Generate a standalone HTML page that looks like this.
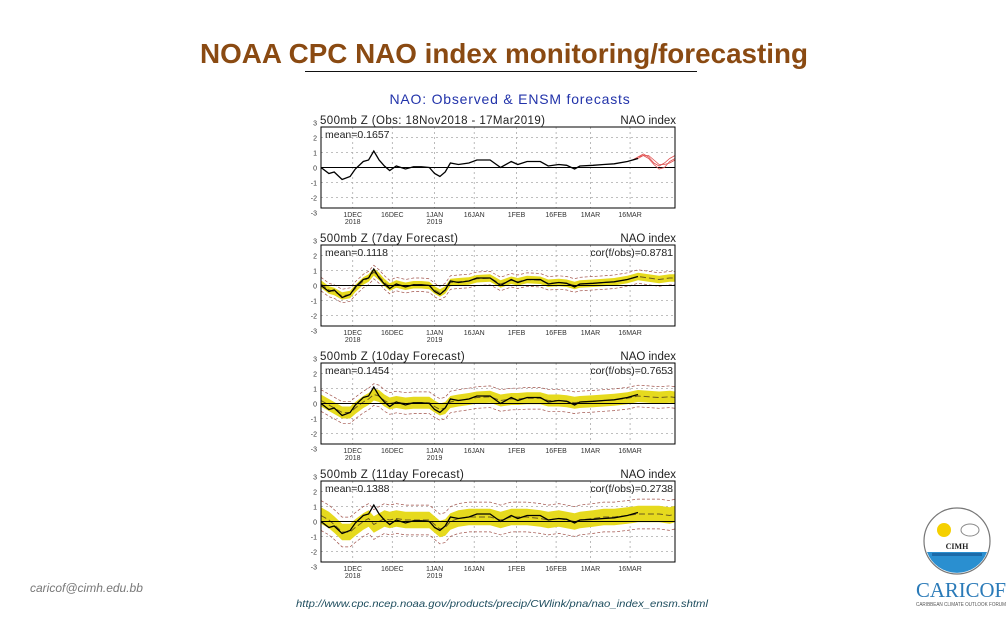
<!DOCTYPE html>
<html><head><meta charset="utf-8"><style>
html,body{margin:0;padding:0;background:#fff;}
body{width:1008px;height:612px;overflow:hidden;position:relative;font-family:"Liberation Sans",sans-serif;}
</style></head><body>
<svg id="slide" width="1008" height="612" viewBox="0 0 1008 612" xmlns="http://www.w3.org/2000/svg">
<text x="200" y="63" textLength="608" lengthAdjust="spacingAndGlyphs" font-family="Liberation Sans, sans-serif" font-weight="bold" font-size="28" fill="#8a4a12">NOAA CPC NAO index monitoring/forecasting</text>
<line x1="305" y1="71.5" x2="697" y2="71.5" stroke="#111" stroke-width="1"/>
<text x="510" y="104" text-anchor="middle" font-family="Liberation Sans, sans-serif" font-size="14" fill="#2233aa" letter-spacing="0.8">NAO: Observed &amp; ENSM forecasts</text>
<text x="30" y="592" font-family="Liberation Sans, sans-serif" font-style="italic" font-size="12" fill="#777">caricof@cimh.edu.bb</text>
<text x="296" y="607" textLength="412" lengthAdjust="spacingAndGlyphs" font-family="Liberation Sans, sans-serif" font-style="italic" font-size="10.5" fill="#1e4d5e">http://www.cpc.ncep.noaa.gov/products/precip/CWlink/pna/nao_index_ensm.shtml</text>
<g>
<circle cx="957" cy="541" r="33" fill="#fff" stroke="#777" stroke-width="1.2"/>
<circle cx="944" cy="530" r="7" fill="#f5d000"/>
<ellipse cx="970" cy="530" rx="9" ry="6" fill="#fff" stroke="#888" stroke-width="1"/>
<text x="957" y="549" text-anchor="middle" font-family="Liberation Serif, serif" font-size="8" font-weight="bold" fill="#222">CIMH</text>
<path d="M927,552 L987,552 A32,32 0 0 1 927,552 Z" fill="#2a8fd0"/>
<rect x="932" y="553" width="50" height="3" fill="#1c6aa8"/>
</g>
<text x="916" y="597" font-family="Liberation Serif, serif" font-size="21" fill="#2a7ab8" textLength="90" lengthAdjust="spacingAndGlyphs">CARICOF</text>
<text x="916" y="606" font-family="Liberation Sans, sans-serif" font-size="5" fill="#555" textLength="90" lengthAdjust="spacingAndGlyphs">CARIBBEAN CLIMATE OUTLOOK FORUM</text>
<g id="charts"></g>
</svg>
<script>
// Day index 0 = 19 Nov 2018
const days = [0,3,5,8,11,13,16,18,20,22,24,26,28.5,32,35,38,41,43,45,47,49,52,56,59,64,68,72,74.5,78,83,86,90,93,96,98,103,107,111,116,120];
const obs = [0,-0.4,-0.3,-0.8,-0.6,-0.1,0.4,0.5,1.1,0.5,0.1,-0.2,0.1,-0.1,0.05,0.05,0,-0.4,-0.6,-0.3,0.3,0.2,0.3,0.5,0.5,0,0.4,0.2,0.4,0.4,0.1,0.2,0.15,-0.1,0.1,0.15,0.2,0.25,0.4,0.6];
const fDays = [0,3,5,8,11,13,16,18,20,22,24,26,28.5,32,35,38,41,43,45,47,49,52,56,59,64,68,72,74.5,78,83,86,90,93,96,98,103,107,111,116,120,124,128,132,134];
const fcst7 = [0.1,-0.3,-0.4,-0.7,-0.6,-0.2,0.3,0.5,0.9,0.6,0.2,-0.1,0.1,-0.05,0.05,0.05,0,-0.3,-0.5,-0.3,0.2,0.25,0.3,0.45,0.5,0.1,0.35,0.25,0.4,0.35,0.15,0.2,0.15,0,0.1,0.15,0.2,0.25,0.4,0.6,0.5,0.4,0.5,0.5];
const fcst10 = [0.2,-0.1,-0.3,-0.6,-0.6,-0.3,0.1,0.3,0.6,0.5,0.2,0,0.1,0,0.05,0.05,0.05,-0.2,-0.4,-0.3,0.1,0.2,0.3,0.4,0.45,0.2,0.3,0.3,0.35,0.35,0.2,0.2,0.15,0.05,0.1,0.15,0.2,0.25,0.35,0.5,0.45,0.4,0.45,0.4];
const fcst11 = [0.4,0.1,-0.2,-0.7,-0.7,-0.4,0,0.2,-0.2,0,0.2,0.1,0.2,0.1,0.1,0.1,0.1,-0.2,-0.5,-0.4,0,0.2,0.3,0.3,0.3,0.1,0.3,0.3,0.3,0.2,0.1,0.2,0.1,0,0.1,0.2,0.3,0.3,0.4,0.5,0.5,0.5,0.4,0.5];
const spread7 = 0.25, spread10 = 0.4, spread11 = 0.55;
const redDays = [118,120,122,124,126,128,130,132,134];
const red1 = [0.5,0.7,0.9,0.7,0.3,0.1,0.3,0.6,0.8];
const red2 = [0.5,0.6,0.8,0.6,0.2,-0.1,0.0,0.4,0.6];
const red3 = [0.5,0.7,0.8,0.8,0.5,0.2,0.2,0.3,0.5];
const tickDays = [12,27,43,58,74,89,102,117];
const tickLabels = ["1DEC","16DEC","1JAN","16JAN","1FEB","16FEB","1MAR","16MAR"];
const tickYears = ["2018","","2019","","","","",""];
const yTicks = [3,2,1,0,-1,-2,-3];
const headers = ["500mb Z (Obs: 18Nov2018 - 17Mar2019)","500mb Z (7day Forecast)","500mb Z (10day Forecast)","500mb Z (11day Forecast)"];
const means = ["mean=0.1657","mean=0.1118","mean=0.1454","mean=0.1388"];
const cors = ["","cor(f/obs)=0.8781","cor(f/obs)=0.7653","cor(f/obs)=0.2738"];

const NS="http://www.w3.org/2000/svg";
const root=document.getElementById('charts');
function mk(tag,attrs,parent){const e=document.createElementNS(NS,tag);for(const k in attrs)e.setAttribute(k,attrs[k]);(parent||root).appendChild(e);return e;}
const X0=321,X1=675,D0=0,D1=134,H=81;
function xs(d){return X0+(d-D0)/(D1-D0)*(X1-X0);}
function mkY(top){const mid=top+H/2;return v=>mid-v*15;}
function pathOf(ds,vs,y){return ds.map((d,i)=>(i?'L':'M')+xs(d).toFixed(1)+','+y(vs[i]).toFixed(1)).join('');}
function band(ds,vs,s,y){let p=ds.map((d,i)=>(i?'L':'M')+xs(d).toFixed(1)+','+y(vs[i]+s).toFixed(1)).join('');
 for(let i=ds.length-1;i>=0;i--)p+='L'+xs(ds[i]).toFixed(1)+','+y(vs[i]-s).toFixed(1);return p+'Z';}
const tops=[127,245,363,481];
const fc=[null,fcst7,fcst10,fcst11];
const sp=[0,spread7,spread10,spread11];
tops.forEach((top,pi)=>{
 const y=mkY(top);
 const g=mk('g',{});
 
 
 const hd=mk('text',{x:320,y:top-3,'font-size':11.5,fill:'#222','font-family':'Liberation Sans, sans-serif','letter-spacing':0.4},g);hd.textContent=headers[pi];
 
 
 const hr=mk('text',{x:676,y:top-3,'font-size':11.5,fill:'#222','text-anchor':'end','font-family':'Liberation Sans, sans-serif'},g);hr.textContent='NAO index';
 
 
 [2,1,-1,-2].forEach(v=>{mk('line',{x1:X0,x2:X1,y1:y(v),y2:y(v),stroke:'#aaa','stroke-dasharray':'2,3','stroke-width':0.8},g);});
 tickDays.forEach(d=>{mk('line',{x1:xs(d),x2:xs(d),y1:top,y2:top+H,stroke:'#aaa','stroke-dasharray':'2,3','stroke-width':0.8},g);});
 if(fc[pi]){
  const b=mk('path',{d:band(fDays,fc[pi],sp[pi],y),fill:'#e6da1e',stroke:'none'},g);
  
  
  const up=mk('path',{d:pathOf(fDays,fc[pi].map(v=>v+sp[pi]*1.8),y),fill:'none',stroke:'#a0524a','stroke-width':0.7,'stroke-dasharray':'3,2'},g);
  
  
  const lo=mk('path',{d:pathOf(fDays,fc[pi].map(v=>v-sp[pi]*1.8),y),fill:'none',stroke:'#a0524a','stroke-width':0.7,'stroke-dasharray':'3,2'},g);
  
  
  const m=mk('path',{d:pathOf(fDays,fc[pi],y),fill:'none',stroke:'#6a5a20','stroke-width':1,'stroke-dasharray':'6,3'},g);
  
  
 }
 const z=mk('line',{x1:X0,x2:X1,y1:y(0),y2:y(0),stroke:'#000','stroke-width':1},g);
 
 
 if(pi===0){
  [red1,red2,red3].forEach(r=>{const rl=mk('path',{d:pathOf(redDays,r,y),fill:'none',stroke:'#e05050','stroke-width':0.8},g);
   
   });
 }
 const o=mk('path',{d:pathOf(days,obs,y),fill:'none',stroke:'#000','stroke-width':1.3},g);
 
 
 const fr=mk('rect',{x:X0,y:top,width:X1-X0,height:H,fill:'none',stroke:'#000','stroke-width':1},g);
 
 
 const mt=mk('text',{x:X0+4,y:top+11,'font-size':10.5,fill:'#222','font-family':'Liberation Sans, sans-serif'},g);mt.textContent=means[pi];
 
 
 if(cors[pi]){const ct=mk('text',{x:X1-2,y:top+11,'font-size':10.5,fill:'#222','text-anchor':'end','font-family':'Liberation Sans, sans-serif'},g);ct.textContent=cors[pi];
  
  }
 yTicks.forEach(v=>{const t=mk('text',{x:X0-4,y:y(v)+3,'font-size':7,fill:'#333','text-anchor':'end','font-family':'Liberation Sans, sans-serif'},g);t.textContent=v;
  
  });
 tickDays.forEach((d,i)=>{const t=mk('text',{x:xs(d),y:top+H+9,'font-size':7,fill:'#333','text-anchor':'middle','font-family':'Liberation Sans, sans-serif'},g);t.textContent=tickLabels[i];
  
  
  if(tickYears[i]){const t2=mk('text',{x:xs(d),y:top+H+16,'font-size':7,fill:'#333','text-anchor':'middle','font-family':'Liberation Sans, sans-serif'},g);t2.textContent=tickYears[i];
   
   }});
});
</script>
</body></html>
